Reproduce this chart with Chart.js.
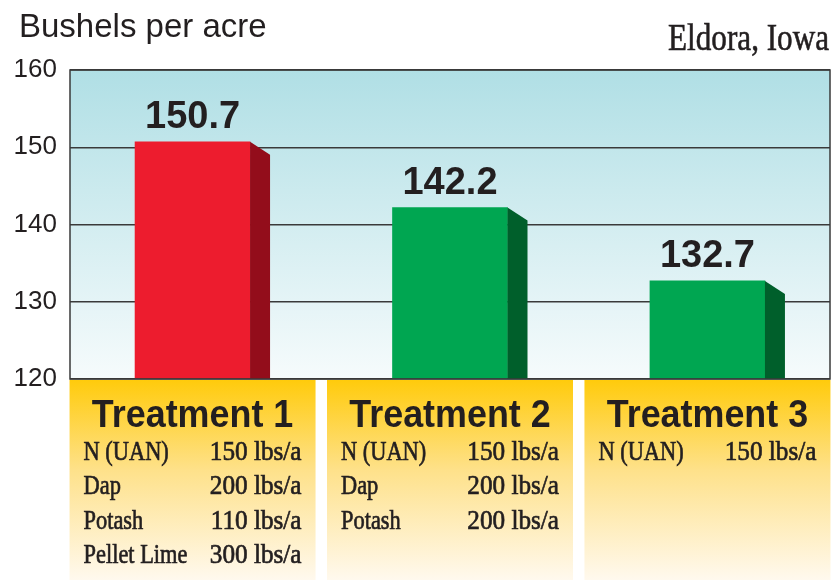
<!DOCTYPE html>
<html>
<head>
<meta charset="utf-8">
<script src="https://cdn.jsdelivr.net/npm/chart.js@4"></script>
<style>
  body { margin: 0; background: #fff; }
  canvas { display: block; }
</style>
</head>
<body>
<canvas id="yieldChart" width="833" height="580"></canvas>
<script>
// chart data
const treatments = ['Treatment 1', 'Treatment 2', 'Treatment 3'];
const yields = [150.7, 142.2, 132.7];
const yTicks = [120, 130, 140, 150, 160];
const inputNames = [
  ['N (UAN)', 'Dap', 'Potash', 'Pellet Lime'],
  ['N (UAN)', 'Dap', 'Potash'],
  ['N (UAN)']
];
const inputRates = [
  ['150 lbs/a', '200 lbs/a', '110 lbs/a', '300 lbs/a'],
  ['150 lbs/a', '200 lbs/a', '200 lbs/a'],
  ['150 lbs/a']
];
const frontColors = ['#ed1c2e', '#00a651', '#00a651'];
const sideColors = ['#930d1b', '#005f2b', '#005f2b'];

const SANS = "'Liberation Sans', Arial, sans-serif";
const SERIF = "'Liberation Serif', 'Times New Roman', serif";
const INK = '#231f20';

// condensed text, optionally with a thin outline to thicken the serif face
function squeezeText(ctx, text, x, y, sx, align, heavy) {
  ctx.save();
  ctx.translate(x, y);
  ctx.scale(sx, 1);
  ctx.textAlign = align;
  ctx.fillText(text, 0, 0);
  if (heavy) {
    ctx.strokeStyle = ctx.fillStyle;
    ctx.lineWidth = heavy;
    ctx.strokeText(text, 0, 0);
  }
  ctx.restore();
}

const decorPlugin = {
  id: 'decor',
  beforeDraw(chart) {
    const { ctx, chartArea: a } = chart;
    const g = ctx.createLinearGradient(0, a.top, 0, a.bottom);
    g.addColorStop(0, '#b0dfe5');
    g.addColorStop(1, '#f6fbfc');
    ctx.save();
    ctx.fillStyle = g;
    ctx.fillRect(a.left, a.top, a.right - a.left, a.bottom - a.top);
    ctx.restore();
  },
  afterDatasetsDraw(chart) {
    const { ctx, chartArea: a } = chart;
    const meta = chart.getDatasetMeta(0);
    ctx.save();
    // 3d side of each bar
    meta.data.forEach((bar, i) => {
      const x1 = bar.x + bar.width / 2;
      ctx.fillStyle = sideColors[i];
      ctx.beginPath();
      ctx.moveTo(x1, bar.y);
      ctx.lineTo(x1 + 20, bar.y + 13);
      ctx.lineTo(x1 + 20, a.bottom);
      ctx.lineTo(x1, a.bottom);
      ctx.closePath();
      ctx.fill();
    });
    // frame
    ctx.strokeStyle = '#3a3a3a';
    ctx.lineWidth = 1.5;
    ctx.strokeRect(a.left, a.top, a.right - a.left, a.bottom - a.top);
    // value labels
    ctx.fillStyle = INK;
    ctx.font = 'bold 38px ' + SANS;
    ctx.textAlign = 'center';
    ctx.textBaseline = 'alphabetic';
    meta.data.forEach((bar, i) => {
      ctx.fillText(yields[i].toFixed(1), bar.x, bar.y - 14);
    });
    ctx.restore();
  },
  afterDraw(chart) {
    const { ctx, chartArea: a } = chart;
    const meta = chart.getDatasetMeta(0);
    ctx.save();
    ctx.textBaseline = 'alphabetic';
    // treatment boxes
    meta.data.forEach((bar, i) => {
      const left = bar.x - 123, right = bar.x + 123;
      const top = a.bottom + 1;
      const g = ctx.createLinearGradient(0, top, 0, chart.height);
      g.addColorStop(0, '#ffcb0c');
      g.addColorStop(0.45, '#fee18a');
      g.addColorStop(1, '#fff9ee');
      ctx.fillStyle = g;
      ctx.fillRect(left, top, right - left, chart.height - top);

      ctx.fillStyle = INK;
      ctx.font = 'bold 39px ' + SANS;
      squeezeText(ctx, treatments[i], bar.x, a.bottom + 48, 0.92, 'center');

      ctx.font = '28px ' + SERIF;
      inputNames[i].forEach((name, j) => {
        const y = a.bottom + 81 + j * 34.4;
        squeezeText(ctx, name, left + 14, y, 0.8, 'left', 0.7);
        squeezeText(ctx, inputRates[i][j], right - 14, y, 0.9, 'right', 0.7);
      });
    });
    // titles
    ctx.fillStyle = INK;
    ctx.font = '33px ' + SANS;
    ctx.textAlign = 'left';
    ctx.fillText('Bushels per acre', 19, 37);
    ctx.font = '38px ' + SERIF;
    squeezeText(ctx, 'Eldora, Iowa', 829, 50, 0.82, 'right', 0.6);
    ctx.restore();
  }
};

new Chart(document.getElementById('yieldChart'), {
  type: 'bar',
  data: {
    datasets: [{
      data: yields.map((v, i) => ({ x: i, y: v })),
      backgroundColor: frontColors,
      base: 120,
      borderWidth: 0,
      barThickness: 115
    }]
  },
  options: {
    responsive: false,
    animation: false,
    events: [],
    layout: { padding: { top: 70, right: 3, bottom: 201, left: 0 } },
    plugins: { legend: { display: false }, tooltip: { enabled: false } },
    scales: {
      x: {
        type: 'linear',
        display: false,
        offset: false,
        min: -0.476,
        max: 2.476
      },
      y: {
        min: yTicks[0],
        max: yTicks[yTicks.length - 1],
        afterBuildTicks: (axis) => { axis.ticks = yTicks.map(v => ({ value: v })); },
        afterFit: (axis) => { axis.width = 70; },
        grid: { color: '#3a3a3a', lineWidth: 1.5, drawTicks: false },
        border: { display: false },
        ticks: {
          color: INK,
          padding: 13,
          font: { family: SANS, size: 26 }
        }
      }
    }
  },
  plugins: [decorPlugin]
});
</script>
</body>
</html>
